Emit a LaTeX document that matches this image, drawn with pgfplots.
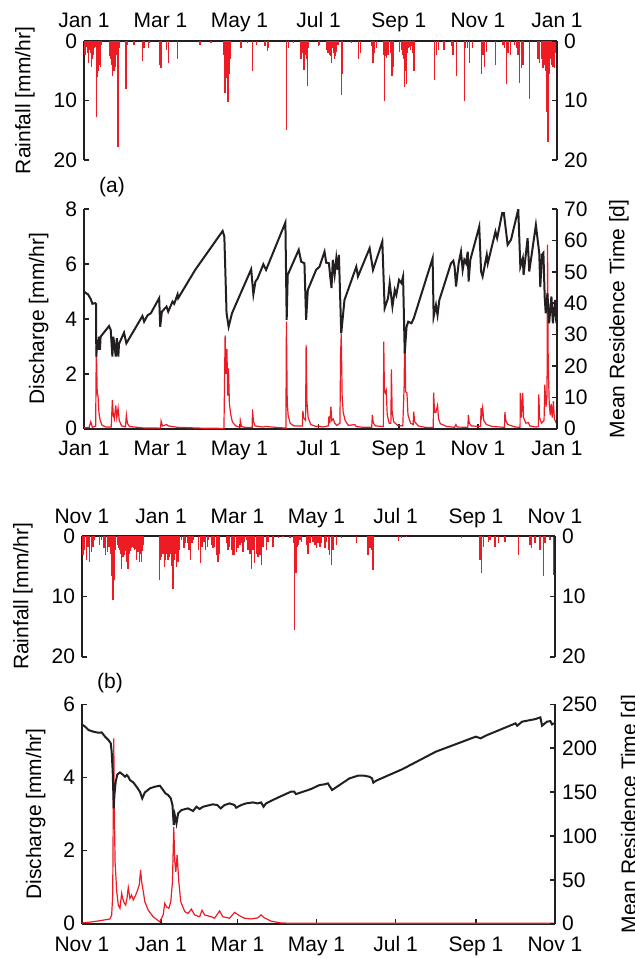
\documentclass[border=0pt]{standalone}
\usepackage{pgfplots}
\pgfplotsset{compat=1.18}
\usepackage{fontspec}
\setmainfont{Liberation Sans}
\definecolor{rred}{HTML}{ED1C24}
\definecolor{axc}{HTML}{231F20}
\pgfplotsset{
  base/.style={scale only axis, width=236.5pt, xmin=0, xmax=365,
    /pgf/number format/assume math mode=true,
    axis line style={line width=0.9pt, axc},
    tick align=inside, major tick length=2.5pt,
    every tick/.style={axc, line width=0.8pt},
    tick label style={font=\fontsize{10.5}{12.6}\selectfont},
    xticklabel style={text height=7.6pt, text depth=2pt},
    label style={font=\fontsize{10.5}{12.6}\selectfont},
    clip=true},
  xa/.style={xtick={0,59,120,181,243,304,365}, xticklabels={Jan 1,Mar 1,May 1,Jul 1,Sep 1,Nov 1,Jan 1}},
  xb/.style={xtick={0,61,120,181,242,304,365}, xticklabels={Nov 1,Jan 1,Mar 1,May 1,Jul 1,Sep 1,Nov 1}},
}
\begin{document}
\begin{tikzpicture}
\path[use as bounding box] (0,0) rectangle (317pt,-479pt);
% ---------------- (a) rainfall ----------------
\begin{axis}[base, xa, at={(42pt,-20.5pt)}, anchor=north west, height=59.5pt,
  ymin=0, ymax=20, y dir=reverse, axis x line*=top, axis y line*=left,
  xticklabel style={yshift=1pt},
  xtick style={draw=none}, ytick={0,10,20}, ylabel={Rainfall [mm/hr]}, ylabel shift=2.5pt]
\addplot[rred, ycomb, line width=0.7pt] coordinates {
(0.8,2.3)(1.5,1.0)(2.1,0.7)(2.7,2.0)(3.3,3.7)(4.0,1.0)(4.6,1.5)(5.3,2.0)(5.9,4.3)(6.5,3.0)(7.2,2.3)(7.8,1.2)(8.5,0.9)(9.2,1.0)(9.8,12.8)(10.4,6.0)(11.1,5.1)(11.8,4.0)(12.9,4.3)(13.6,0.7)
(20.1,2.6)(20.6,3.0)(21.3,4.0)(21.7,2.2)(22.1,5.9)(22.6,4.5)(23.1,5.1)(23.9,4.3)(24.4,3.0)(24.8,2.0)(25.2,2.3)(25.6,1.5)(26.2,17.8)(27.0,1.2)
(32.4,8.1)(33.4,0.7)(38.6,0.6)(45.3,3.4)(46.3,1.2)(49.6,1.2)(50.2,0.4)(58.6,4.0)(59.4,4.5)(59.9,1.8)(63.8,1.5)(65.1,3.7)(72.3,3.1)(89.5,0.6)(98.0,0.4)
(108.0,2.3)(108.4,4.0)(108.8,8.7)(109.3,7.5)(109.7,5.0)(110.1,6.2)(110.6,4.0)(111.1,10.3)(111.6,3.5)(112.2,5.6)(112.7,3.0)(113.2,2.3)
(121.1,1.1)(126.3,0.4)(130.2,5.1)(133.2,0.7)(139.7,0.9)(141.5,1.7)(142.2,1.2)(156.4,15.0)(157.7,1.2)(161.5,0.4)
(167.4,3.1)(167.9,1.5)(168.5,2.0)(169.2,2.5)(169.8,4.8)(170.8,2.3)(171.5,3.0)(172.3,7.6)(173.3,1.2)(180.8,0.9)
(181.8,0.7)(187.0,1.5)(187.6,1.0)(188.3,2.0)(189.0,1.5)(189.6,2.3)(190.2,2.5)(190.8,3.7)(191.5,1.0)(192.1,1.2)(192.8,2.0)(193.4,3.1)(194.0,2.5)(194.7,1.8)(196.0,0.7)
(198.6,9.0)(199.3,5.6)(206.3,0.4)(211.9,3.1)(213.2,2.0)(221.7,0.9)(223.0,3.7)(224.3,2.0)(225.6,1.2)
(231.5,2.3)(232.0,10.1)(232.6,2.5)(233.3,2.9)(234.6,2.3)(236.9,2.0)(237.7,5.9)(238.2,3.0)(238.7,4.3)
(243.6,1.8)(244.9,1.2)(245.5,1.5)(246.1,2.3)(246.8,3.0)(247.4,7.8)(248.0,5.0)(248.7,7.3)(249.4,2.0)(250.0,1.2)(251.4,1.0)(252.1,1.5)(253.1,0.9)(253.8,2.0)(254.6,5.1)
(270.6,6.5)(271.9,2.3)(273.7,1.5)(277.8,1.5)(283.9,0.9)(284.7,2.3)(287.3,5.9)(293.7,10.1)(294.5,1.2)(295.8,1.2)(297.6,3.7)(299.6,1.2)
(306.6,5.6)(307.9,2.3)(309.2,4.3)(310.4,1.8)(317.6,4.0)(323.3,0.7)(324.6,1.2)(325.9,7.3)(327.2,2.0)(329.2,2.3)(332.3,0.7)(333.6,1.2)(334.9,2.3)(336.2,7.0)(337.4,4.5)(338.7,4.0)(343.9,9.8)
(350.3,3.1)(351.0,2.0)(351.6,3.7)(352.9,2.3)(353.5,3.0)(354.2,4.5)(355.0,2.5)(355.5,4.0)(356.1,5.0)(356.7,9.0)(357.4,12.0)(358.0,17.0)(358.6,6.0)(359.3,5.6)(359.9,3.0)(360.6,4.0)(361.2,2.5)(361.9,4.3)(362.5,3.0)(363.2,4.5)(363.8,2.0)(364.5,2.6)
};
\end{axis}
\begin{axis}[base, at={(42pt,-20.5pt)}, anchor=north west, height=59.5pt,
  ymin=0, ymax=20, y dir=reverse, axis x line=none, axis y line*=right, ytick={0,10,20}]
\end{axis}
\node[font=\fontsize{10.5}{12.6}\selectfont] at (56pt,-93.5pt) {(a)};
% ---------------- (a) discharge / MRT ----------------
\begin{axis}[base, xa, at={(42pt,-104.5pt)}, anchor=north west, height=109.85pt,
  ymin=0, ymax=8, axis x line*=bottom, axis y line*=left, ytick={0,2,4,6,8},
  xticklabel style={yshift=-2.5pt},
  ylabel={Discharge [mm/hr]}, ylabel shift=1.5pt]
\addplot[rred, line width=0.6pt] coordinates {
(0,0.03)(4,0.05)(5.2,0.25)(6.5,0.05)(9,0.1)(9.5,3.0)(10.2,1.3)(10.8,1.2)(11.5,0.6)(12.5,0.3)(14,0.12)(17,0.06)(21,0.06)(21.9,1.05)(22.6,0.5)(23.4,0.35)(24.5,0.85)(25.3,0.4)(26.3,0.75)(27.2,0.3)(29,0.1)(32,0.07)(32.7,0.5)(33.5,0.2)(35,0.08)(45,0.03)(59,0.02)(59.5,0.28)(60.5,0.1)(63.8,0.15)(65,0.1)(72,0.05)(90,0.02)
(108,0.01)(108.9,3.4)(109.6,2.0)(110.3,2.9)(110.9,1.2)(111.5,2.2)(112.2,0.9)(113.3,0.5)(114.5,0.25)(117,0.1)(120.4,0.06)(120.6,0.3)(121.5,0.08)(125,0.04)(129.8,0.05)(130,0.7)(130.8,0.25)(132,0.1)(138,0.06)(140,0.08)
(155.8,0.02)(156.2,3.9)(156.8,1.0)(157.5,0.5)(159,0.2)(162,0.1)(168.5,0.1)(168.9,0.65)(169.5,0.4)(171,0.3)(171.4,3.05)(172,1.0)(173,0.4)(175,0.15)(179,0.08)(181,0.1)(184,0.06)
(188.5,0.1)(189,0.45)(189.7,0.2)(190.5,0.8)(191.2,0.3)(192.3,0.35)(193.5,0.2)(195,0.12)(197.5,0.2)(198,2.7)(198.5,3.45)(199.2,1.2)(200,0.6)(201.5,0.3)(204,0.12)(209,0.15)(210,0.08)(215,0.05)
(222,0.05)(222.5,0.5)(223.3,0.2)(225,0.1)(231,0.08)(231.3,3.17)(231.8,1.4)(232.5,1.3)(233.2,1.4)(234,0.5)(235.5,0.2)(236.8,0.2)(237.2,2.16)(237.8,0.6)(239,0.25)(242,0.12)
(246,0.1)(247,1.5)(247.6,3.6)(248.2,1.35)(249.2,1.3)(250,0.5)(252,0.2)(254,0.15)(254.4,0.62)(255.2,0.25)(258,0.1)(263,0.05)(269.5,0.04)(269.8,1.31)(270.5,0.6)(271.5,0.6)(272.8,0.85)(273.6,0.35)(275,0.18)(280,0.08)
(286,0.05)(287,0.15)(288,0.06)(296.2,0.05)(296.6,0.5)(297.3,0.2)(299,0.1)(306,0.08)(306.4,0.75)(307,0.5)(307.6,0.75)(308.5,0.3)(310.5,0.15)(315,0.08)(324.5,0.05)(324.8,0.6)(325.5,0.3)(327,0.15)(333,0.06)
(336.5,0.05)(336.7,1.3)(337.5,0.4)(338.5,1.3)(339.2,0.4)(341,0.2)(343,0.22)(344,0.1)(349,0.06)(350.6,0.08)(350.9,1.25)(351.6,0.4)(353,0.2)(355,0.3)(355.6,1.6)(356.5,0.8)(357.3,1.2)(357.7,6.7)(358.2,2.4)(359,0.9)(359.8,0.5)(360.5,0.9)(361.3,0.4)(362.2,1.0)(363,0.35)(364,0.25)(365,0.15)
};
\end{axis}
\begin{axis}[base, at={(42pt,-104.5pt)}, anchor=north west, height=109.85pt,
  ymin=0, ymax=70, axis x line=none, axis y line*=right, ytick={0,10,...,70},
  ylabel={Mean Residence Time [d]}, ylabel shift=4pt]
\addplot[axc, line width=1pt] coordinates {
(0,43.8)(0.8,43.4)(3.1,42.8)(5.2,41.3)(6.5,39.8)(8.5,40.0)(9.3,39.7)(9.5,23.0)(10.2,28.3)(10.8,25.1)(11.5,29.3)(12.3,25.1)(12.8,29.3)(19.3,32.7)(20.6,31.5)(21.9,23.0)(22.6,29.3)(23.4,26.9)(24.5,23.0)(25.3,28.8)(26.5,23.0)(27,27)(30.9,30.6)(32.7,27.2)
(45.1,35.9)(46.4,34.1)(49,36.1)(51.6,36.8)(58,41.6)(58.8,32.5)(60.1,37.3)(63.7,38.9)(65,37.3)(68.3,40.5)(69.6,39.8)(72.2,42.8)(72.7,41.6)(85.8,50.6)(107,63.0)(108.3,61.2)(110,36.8)(111.6,32.5)(114.2,36.8)
(129,50.8)(130.7,42.8)(132.3,46.9)(134,47.9)(138.4,52.4)(140.5,50.6)(155.4,65.7)(156.4,34.7)(157.2,49.0)(165.7,57.0)(167.6,53.2)(170.1,52.7)(171.4,34.7)(172.7,44.2)(179.1,50.6)(181.7,51.6)(185.6,56.4)(186.9,52.9)
(189,52.7)(190,48.5)(191,44.8)(192,53.8)(193.4,49)(194.7,54.3)(195.7,50.6)(196.7,55.4)(198.5,30.4)(201,41.0)(210.1,51.6)(211.4,48.5)(220.4,57.5)(223,50.6)(230.2,59.6)(232,38.4)(234.6,41.6)(235.9,46.4)(238,38.9)(239.8,44.2)(241,42.6)(243.1,47.4)(244.9,46.4)(246.2,48.5)
(247.5,24.0)(248.9,32.5)(250.2,34.1)(252.7,33.6)(254.5,35.2)(269,54.3)(269.8,35.7)(271.6,39.4)(272.8,36.2)(274.2,41.0)(276.7,44.2)(283.2,52.7)(285,53.5)(286,51.5)(287.1,45.3)(289.1,52.7)(290.9,56.4)(292.2,50.6)(293.5,53.8)(294.8,52.7)(296.1,56.4)(296.8,46.9)(298.1,53.8)
(305,64.4)(306.4,50.1)(307.6,48.5)(310.8,55.4)(311.6,52.7)(317.5,62.8)(318.8,60.7)(322.7,68.7)(324,68.7)(326.9,58.6)(329.5,60.2)(335.1,69.9)(336.7,51.6)(338.6,54.3)(339.2,49)(342.3,60.7)(343.6,50.1)(348.7,64.9)(351.3,55.9)(352.1,45.1)(353.4,55.4)(354.5,56)(355.5,42)
(356.3,36.8)(357.6,43.2)(358.9,33.6)(360.7,42.1)(361.8,33.6)(363.6,41.0)(364.5,33.6)(365,41)
};
\end{axis}
% ---------------- (b) rainfall ----------------
\begin{axis}[base, xb, at={(41pt,-268pt)}, anchor=north west, height=60.35pt,
  ymin=0, ymax=20, y dir=reverse, axis x line*=top, axis y line*=left,
  xticklabel style={yshift=0.5pt},
  xtick style={draw=none}, ytick={0,10,20}, ylabel={Rainfall [mm/hr]}, ylabel shift=2.5pt]
\addplot[rred, ycomb, line width=0.7pt] coordinates {
(0.8,3.1)(2.1,2.3)(3.3,4.0)(4.6,1.8)(5.9,4.3)(7.2,2.6)(8.5,1.8)(9.8,0.7)(13.6,1.5)(14.9,0.7)(17.0,2.0)(18.0,3.1)(19.6,2.6)(20.8,1.8)(21.9,2.9)(22.7,6.7)(23.4,7.8)(23.9,10.6)(24.7,7.3)(25.7,2.3)
(27.8,1.5)(28.4,2.0)(29.1,2.3)(29.7,3.0)(30.4,5.4)(31.0,2.5)(31.7,3.4)(32.3,2.0)(32.9,3.1)(33.6,2.5)(34.2,4.3)(34.8,3.0)(35.5,5.4)(36.1,2.0)(36.8,2.9)(37.4,2.5)(38.1,2.0)(38.7,1.8)(39.4,1.5)(40.0,2.0)(40.7,2.3)(41.3,2.2)(42.0,4.0)(42.6,2.5)(43.2,2.6)(43.8,2.0)(44.5,4.3)(45.1,3.0)(45.8,4.3)(46.5,2.5)(47.1,1.5)
(60.0,7.3)(60.6,4.0)(61.3,3.4)(61.9,3.0)(62.5,2.3)(63.2,3.0)(63.8,5.1)(64.4,4.0)(65.1,2.9)(65.8,3.0)(66.4,4.0)(67.0,3.5)(67.7,2.3)(68.3,3.0)(69.0,4.3)(69.6,5.0)(70.3,8.7)(71.0,4.0)(71.6,3.1)(72.2,3.0)(72.8,5.1)(73.5,3.5)(74.1,4.3)(74.8,2.0)(75.4,2.3)(76.7,0.7)
(78.8,2.0)(79.8,1.2)(81.3,1.2)(82.6,2.3)(83.9,4.0)(84.9,1.2)(85.7,0.7)(90.1,2.3)(91.6,4.5)(92.7,1.8)(94.2,1.0)(95.2,2.3)(96.8,1.8)(97.8,0.7)(99.9,1.5)(101.2,2.0)(102.4,1.8)(103.7,3.1)(105.0,4.3)(106.3,2.9)
(111.5,1.2)(112.7,2.3)(114.0,1.8)(115.3,2.3)(116.6,3.1)(117.9,3.1)(119.2,2.6)(120.5,2.0)(121.8,1.5)(123.0,1.2)(124.3,2.6)(125.6,1.0)(126.9,0.7)(128.2,2.3)(129.5,2.9)(130.8,5.4)(132.0,2.3)(133.3,4.5)(134.6,2.9)(135.9,3.4)(137.2,3.1)(138.5,4.8)(139.8,1.8)(142.3,2.3)(143.6,1.0)(147.5,1.8)(151.4,0.4)(155.2,0.1)(160.4,0.4)
(163.7,1.2)(164.2,15.6)(165.0,6.2)(165.8,1.8)(166.8,1.5)(168.1,0.7)(169.4,1.0)(173.2,1.5)(174.5,2.9)(175.8,1.2)(178.4,1.0)(179.7,1.5)(181.0,2.0)(182.2,1.2)(183.5,1.8)(184.8,1.2)(187.4,2.0)(188.7,1.0)(190.0,2.3)(191.2,3.1)(192.5,4.8)(193.8,2.3)(196.4,1.5)(200.3,0.4)
(211.8,1.2)(220.8,3.1)(222.1,2.0)(223.4,2.3)(224.7,5.6)(244.0,0.9)(246.6,0.4)(250.5,0.2)(292.9,0.4)(307.1,4.0)(308.4,6.2)(309.7,1.8)(313.5,1.0)(314.8,0.7)(318.7,1.8)(321.2,1.2)(326.4,1.0)(336.7,3.1)(345.7,1.5)(347.0,2.0)(349.5,1.2)(353.4,2.3)(356.0,6.7)(357.3,1.2)(361.1,0.7)(363.7,6.5)
};
\end{axis}
\begin{axis}[base, at={(41pt,-268pt)}, anchor=north west, height=60.35pt,
  ymin=0, ymax=20, y dir=reverse, axis x line=none, axis y line*=right, ytick={0,10,20}]
\end{axis}
\node[font=\fontsize{10.5}{12.6}\selectfont] at (55pt,-341.5pt) {(b)};
% ---------------- (b) discharge / MRT ----------------
\begin{axis}[base, xb, at={(41pt,-352.15pt)}, anchor=north west, height=109.7pt,
  ymin=0, ymax=6, axis x line*=bottom, axis y line*=left, ytick={0,2,4,6},
  xticklabel style={yshift=-3pt},
  ylabel={Discharge [mm/hr]}, ylabel shift=2pt]
\addplot[rred, line width=0.6pt] coordinates {
(0,0.02)(7.6,0.05)(15.2,0.09)(21.6,0.13)(22.9,0.24)(23.7,0.78)(24.5,5.07)(25.0,3.06)(25.5,1.7)(26.8,0.88)(28.0,0.51)(29.3,0.42)(30.6,0.83)(31.4,0.69)(32.7,0.56)(33.7,0.51)(34.7,0.69)(35.7,0.99)(37.0,0.69)(38.3,0.78)(39.6,0.65)(41.4,0.78)(42.9,0.92)(44.2,1.06)(45.2,1.47)(46.0,1.15)(47.3,0.88)(48.5,0.6)(51.1,0.37)(54.9,0.19)(60.1,0.05)
(62.6,0.24)(63.9,0.56)(65.2,0.46)(67.0,0.42)(68.5,0.6)(69.8,1.15)(70.8,2.65)(71.6,1.7)(72.4,1.42)(73.4,1.88)(74.7,1.15)(76.2,0.6)(79.3,0.33)(81.8,0.28)(84.4,0.4)(86.9,0.24)(90.8,0.19)(92.6,0.37)(94.6,0.24)(99.8,0.19)(102.3,0.15)(106.2,0.35)(108.7,0.19)(113.9,0.15)(117.7,0.31)(121.5,0.22)(125.4,0.15)(130.5,0.13)(135.6,0.16)(138.2,0.24)(140.7,0.16)(145.9,0.07)(153.6,0.02)(163.8,0.01)(365,0.01)
};
\end{axis}
\begin{axis}[base, at={(41pt,-352.15pt)}, anchor=north west, height=109.7pt,
  ymin=0, ymax=250, axis x line=none, axis y line*=right, ytick={0,50,...,250},
  ylabel={Mean Residence Time [d]}, ylabel shift=5pt]
\addplot[axc, line width=1pt] coordinates {
(0,227.1)(2.4,224.5)(5,220.7)(8.8,218.8)(12.7,217.6)(15.2,218)(17.8,213.1)(20.4,209.3)(22.2,205.5)(22.9,196)(23.7,173.2)(24.5,131.4)(25,146.6)(26,161.8)(27.3,170.2)(29.3,172.4)(31.9,169.4)(33.2,167.5)(34.5,169.4)(35.7,167.5)(37,163.7)(39.6,161.0)(42.1,156.1)(44.7,150.4)(46.5,142.8)(48.5,149.6)(52.4,154.2)(56.2,156.1)(60.1,157.2)
(62.6,152.3)(64.4,148.5)(66.5,146.6)(68.5,142.8)(69.8,135.2)(70.8,112.4)(71.6,123.8)(72.9,114.3)(74.2,125.7)(76.7,129.5)(81.8,131.4)(85.7,128.4)(88.3,133.3)(90.8,130.7)(93.4,133.3)(98.5,135.2)(101,136)(104.4,135.2)(107,131.4)(110,135.2)(113.9,137.1)(117.7,135.2)(119,132.2)(122.8,135.2)(126.6,137.1)(131.8,138.2)(135.6,137.1)(138.2,138.2)(140.1,133.3)(142,137.1)
(151,143.6)(161.2,150.4)(163.8,150.4)(165.1,147.7)(169,149.6)(176.6,153.4)(183.3,158)(187.1,158.8)(189.7,159.9)(193,152.3)(198.7,158)(206.4,165.6)(212.8,168.6)(217.9,168.6)(221.8,167.5)(223.8,165.6)(224.8,160.7)(226.9,162.9)(247.4,176.2)(273,196)(303.8,213.1)(306.3,211.9)(307.6,211.2)(311.4,214.2)
(334.5,228.3)(335.8,225.6)(339.6,230.2)(349.9,233.2)(353.7,235.1)(355,225.6)(358.8,230.2)(361.4,230.9)(362.7,227.1)(364.2,228.3)
};
\end{axis}
\end{tikzpicture}
\end{document}
